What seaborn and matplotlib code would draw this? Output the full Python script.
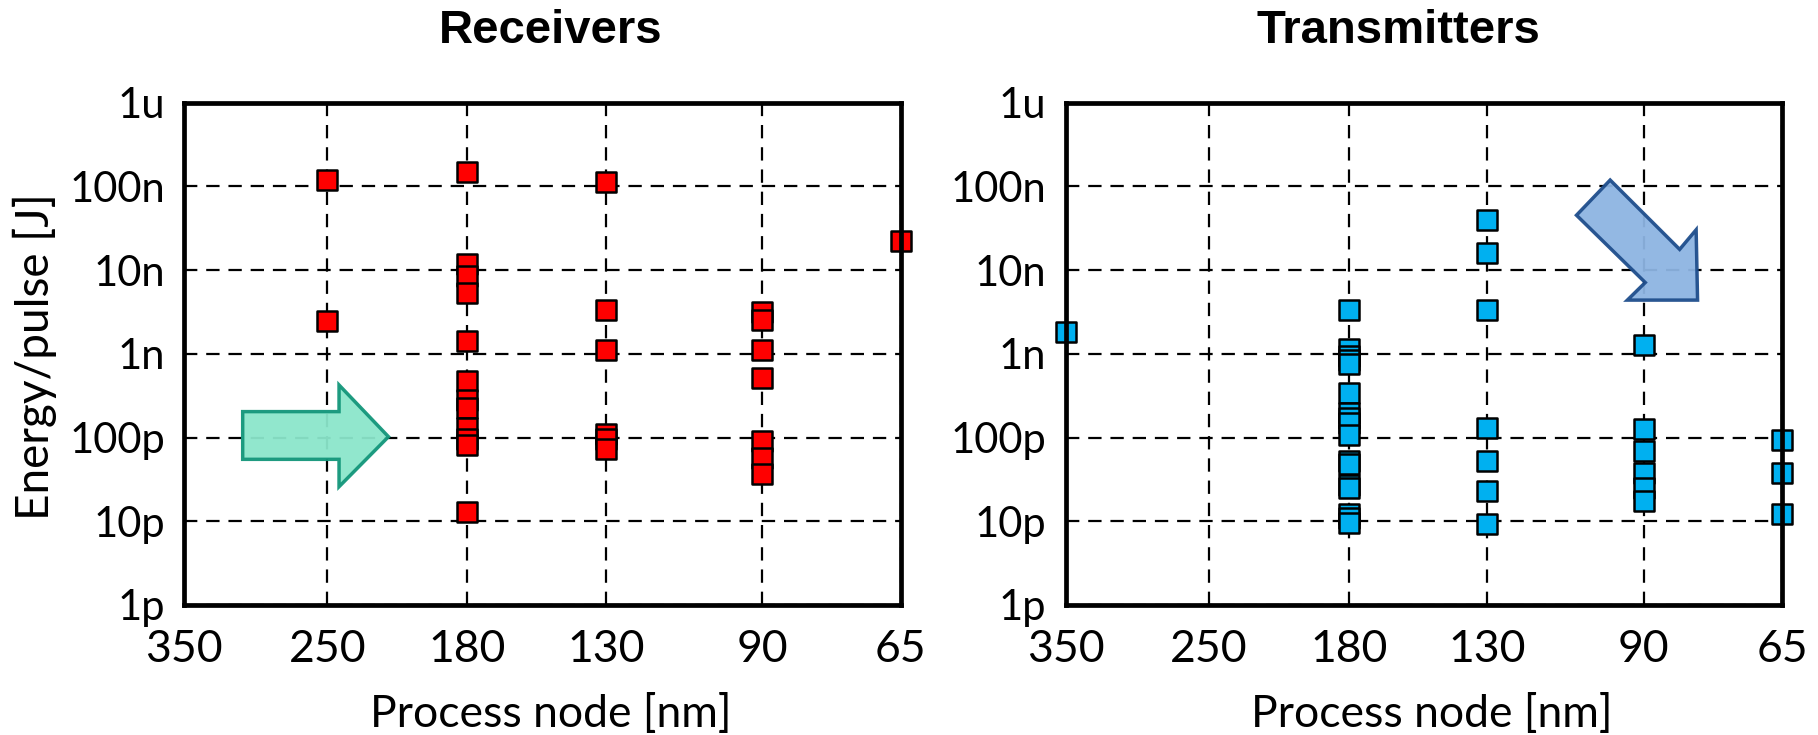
import matplotlib
matplotlib.use("Agg")
import matplotlib.pyplot as plt
import matplotlib.patches as mpatches
import seaborn as sns
import pandas as pd

# ---------------- data ----------------
rx_nodes = [250, 250,
            180, 180, 180, 180, 180, 180, 180, 180, 180, 180, 180, 180,
            130, 130, 130, 130, 130, 130,
            90, 90, 90, 90, 90, 90, 90,
            65]
rx_energy = [120e-9, 2.44e-9,
             148e-9, 11.8e-9, 8.5e-9, 5.4e-9, 1.44e-9, 470e-12, 280e-12, 225e-12, 130e-12, 95e-12, 82e-12, 13e-12,
             113e-9, 3.33e-9, 1.1e-9, 110e-12, 95e-12, 74e-12,
             3.16e-9, 2.56e-9, 1.1e-9, 508e-12, 91e-12, 57e-12, 36.6e-12,
             22.5e-9]

tx_nodes = [350,
            180, 180, 180, 180, 180, 180, 180, 180, 180, 180, 180, 180, 180, 180, 180, 180, 180,
            130, 130, 130, 130, 130, 130, 130,
            90, 90, 90, 90, 90, 90,
            65, 65, 65]
tx_energy = [1.83e-9,
             3.3e-9, 1.15e-9, 0.95e-9, 0.85e-9, 0.76e-9, 343e-12, 195e-12, 172e-12, 150e-12, 107e-12,
             52e-12, 48e-12, 27e-12, 25e-12, 12.3e-12, 11e-12, 9.5e-12,
             40e-9, 16.2e-9, 3.35e-9, 129e-12, 52e-12, 23e-12, 9.3e-12,
             1.26e-9, 127e-12, 69e-12, 38e-12, 25e-12, 17.5e-12,
             94e-12, 37.6e-12, 12.3e-12]

x_ticks = [350, 250, 180, 130, 90, 65]
x_ticklabels = ["350", "250", "180", "130", "90", "65"]
y_ticks = [1e-12, 1e-11, 1e-10, 1e-9, 1e-8, 1e-7, 1e-6]
y_ticklabels = ["1p", "10p", "100p", "1n", "10n", "100n", "1u"]

titles = ["Receivers", "Transmitters"]
x_label = "Process node [nm]"
y_label = "Energy/pulse [J]"

# ---------------- style ----------------
sns.set_style("white")
plt.rcParams["font.family"] = ["Lato", "DejaVu Sans"]
plt.rcParams["text.color"] = "black"
plt.rcParams["axes.labelcolor"] = "black"
plt.rcParams["xtick.color"] = "black"
plt.rcParams["ytick.color"] = "black"

W, H = 1818, 735
fig = plt.figure(figsize=(W / 100, H / 100), dpi=100)

ax_w = 716.4 / W
ax_h = 502.3 / H
ax_b = (H - 605) / H
axL = fig.add_axes([184.3 / W, ax_b, ax_w, ax_h])
axR = fig.add_axes([1065.7 / W, ax_b, ax_w, ax_h])

rx_df = pd.DataFrame({"node": rx_nodes, "energy": rx_energy})
tx_df = pd.DataFrame({"node": tx_nodes, "energy": tx_energy})

for ax, df, col in [(axL, rx_df, "#FF0000"), (axR, tx_df, "#00B0F0")]:
    ax.set_xscale("log")
    ax.set_yscale("log")
    sns.scatterplot(data=df, x="node", y="energy", marker="s", color=col,
                    edgecolor="black", s=200, linewidth=1.8, ax=ax,
                    clip_on=False, zorder=4, legend=False)
    ax.set_xlim(350, 65)
    ax.set_ylim(1e-12, 1e-6)
    ax.set_xticks(x_ticks)
    ax.set_xticklabels(x_ticklabels)
    ax.set_yticks(y_ticks)
    ax.set_yticklabels(y_ticklabels)
    ax.minorticks_off()
    ax.tick_params(axis="both", length=0, colors="black")
    ax.tick_params(axis="x", labelsize=32, pad=17)
    ax.tick_params(axis="y", labelsize=30, pad=14)
    ax.grid(True, which="major", color="black", linestyle=(0, (6, 4)), linewidth=1.6)
    for sp in ax.spines.values():
        sp.set_linewidth(3.4)
        sp.set_color("black")
        sp.set_zorder(5)
    ax.set_xlabel("")
    ax.set_ylabel("")

# titles and labels
fig.text(551 / W, (H - 43) / H, titles[0], ha="center", va="baseline",
         fontsize=34, fontweight="bold", family="Liberation Sans", color="black")
fig.text(1398 / W, (H - 43) / H, titles[1], ha="center", va="baseline",
         fontsize=34, fontweight="bold", family="Liberation Sans", color="black")
fig.text(551 / W, (H - 727) / H, x_label, ha="center", va="baseline", fontsize=32, color="black")
fig.text(1432 / W, (H - 727) / H, x_label, ha="center", va="baseline", fontsize=32, color="black")
fig.text(35 / W, (H - 357) / H, y_label, ha="center", va="center",
         rotation=90, fontsize=33, color="black")

# green arrow (receivers)
green = [(0.0815, 0.385), (0.216, 0.385), (0.216, 0.438), (0.285, 0.335),
         (0.216, 0.2355), (0.216, 0.290), (0.0815, 0.290)]
axL.add_patch(mpatches.Polygon(green, closed=True, transform=axL.transAxes,
                               facecolor="#8BE6CB", edgecolor="#13967A",
                               linewidth=2.5, alpha=0.95, zorder=3))

# blue arrow (transmitters)
blue = [(0.760, 0.846), (0.857, 0.708), (0.880, 0.747), (0.882, 0.607),
        (0.784, 0.607), (0.809, 0.642), (0.713, 0.776)]
axR.add_patch(mpatches.Polygon(blue, closed=True, transform=axR.transAxes,
                               facecolor="#8DB4E2", edgecolor="#1F4E8C",
                               linewidth=2.5, alpha=0.95, zorder=3))

fig.savefig("out.png", dpi=100)
